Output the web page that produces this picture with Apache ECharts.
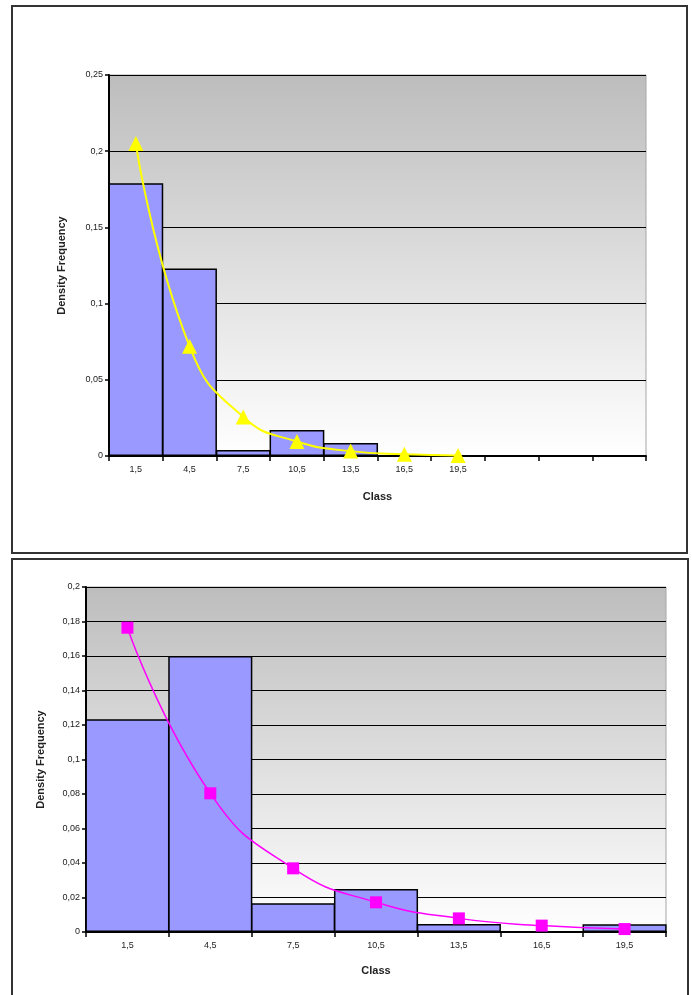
<!DOCTYPE html>
<html>
<head>
<meta charset="utf-8">
<script src="https://cdn.jsdelivr.net/npm/echarts@6/dist/echarts.min.js"></script>
<style>
  html, body { margin: 0; padding: 0; background: #ffffff; }
  #chart { width: 692px; height: 995px; }
</style>
</head>
<body>
<div id="chart"></div>
<script>
// Upper histogram: classes (last three slots are unlabelled)
const topClasses = ['1,5', '4,5', '7,5', '10,5', '13,5', '16,5', '19,5', '', '', ''];
const topBars = [0.179, 0.123, 0.004, 0.017, 0.0085, 0, 0];
const topFit = [0.205, 0.072, 0.0256, 0.0095, 0.0032, 0.0011, 0.0004];
const topTicks = { min: 0, max: 0.25, step: 0.05 };

// Lower histogram
const bottomClasses = ['1,5', '4,5', '7,5', '10,5', '13,5', '16,5', '19,5'];
const bottomBars = [0.1233, 0.160, 0.0166, 0.0249, 0.0046, 0, 0.0045];
const bottomFit = [0.1764, 0.0804, 0.0369, 0.0172, 0.0079, 0.0037, 0.0017];
const bottomTicks = { min: 0, max: 0.2, step: 0.02 };

const FONT = '"Liberation Sans", Arial, sans-serif';

function commaNum(v) {
  return String(+v.toFixed(2)).replace('.', ',');
}

function plotBackground() {
  return {
    type: 'linear', x: 0, y: 0, x2: 0, y2: 1,
    colorStops: [
      { offset: 0, color: '#bdbdbd' },
      { offset: 1, color: '#ffffff' }
    ]
  };
}

function xAxisFor(gridIndex, cats, nameGap) {
  return {
    type: 'category', gridIndex: gridIndex, data: cats,
    boundaryGap: true,
    name: 'Class', nameLocation: 'middle', nameGap: nameGap,
    nameTextStyle: { fontFamily: FONT, fontSize: 11, fontWeight: 'bold', color: '#222' },
    axisLine: { show: true, lineStyle: { color: '#000', width: 2 } },
    axisTick: { show: true, alignWithLabel: false, length: 5, lineStyle: { color: '#000', width: 1.5 } },
    axisLabel: { fontFamily: FONT, fontSize: 9, color: '#222', margin: 9, interval: 0 },
    splitLine: { show: false }
  };
}

function yAxisFor(gridIndex, ticks, nameGap) {
  return {
    type: 'value', gridIndex: gridIndex,
    min: ticks.min, max: ticks.max, interval: ticks.step,
    name: 'Density Frequency', nameLocation: 'middle', nameRotate: 90, nameGap: nameGap,
    nameTextStyle: { fontFamily: FONT, fontSize: 11, fontWeight: 'bold', color: '#222' },
    axisLine: { show: true, lineStyle: { color: '#000', width: 2 } },
    axisTick: { show: true, length: 4, lineStyle: { color: '#000', width: 1.5 } },
    axisLabel: { fontFamily: FONT, fontSize: 9, color: '#222', margin: 6, formatter: commaNum },
    splitLine: { show: true, lineStyle: { color: '#000', width: 1.2 } }
  };
}

const chart = echarts.init(document.getElementById('chart'), null, { renderer: 'canvas' });

chart.setOption({
  animation: false,
  backgroundColor: '#ffffff',
  graphic: [
    { type: 'rect', shape: { x: 12, y: 6, width: 675, height: 547 },
      style: { fill: 'none', stroke: '#333', lineWidth: 2 }, z: 100 },
    { type: 'rect', shape: { x: 12, y: 559, width: 676, height: 450 },
      style: { fill: 'none', stroke: '#333', lineWidth: 2 }, z: 100 }
  ],
  grid: [
    { left: 109, top: 75, width: 537, height: 381, show: true,
      backgroundColor: plotBackground(), borderColor: '#a6a6a6', borderWidth: 1 },
    { left: 86, top: 587, width: 580, height: 345, show: true,
      backgroundColor: plotBackground(), borderColor: '#a6a6a6', borderWidth: 1 }
  ],
  xAxis: [
    xAxisFor(0, topClasses, 35),
    xAxisFor(1, bottomClasses, 33)
  ],
  yAxis: [
    yAxisFor(0, topTicks, 42),
    yAxisFor(1, bottomTicks, 40)
  ],
  series: [
    {
      type: 'bar', xAxisIndex: 0, yAxisIndex: 0, data: topBars,
      barWidth: '102%',
      itemStyle: { color: '#9999ff', borderColor: '#000', borderWidth: 1.5 }
    },
    {
      type: 'line', xAxisIndex: 0, yAxisIndex: 0, data: topFit,
      smooth: 0.5, symbol: 'triangle', symbolSize: 15,
      lineStyle: { color: '#ffff00', width: 2 },
      itemStyle: { color: '#ffff00' }, z: 5
    },
    {
      type: 'bar', xAxisIndex: 1, yAxisIndex: 1, data: bottomBars,
      barWidth: '101.5%',
      itemStyle: { color: '#9999ff', borderColor: '#000', borderWidth: 1.5 }
    },
    {
      type: 'line', xAxisIndex: 1, yAxisIndex: 1, data: bottomFit,
      smooth: 0.5, symbol: 'rect', symbolSize: 12,
      lineStyle: { color: '#ff00ff', width: 1.5 },
      itemStyle: { color: '#ff00ff' }, z: 5
    }
  ]
});
</script>
</body>
</html>
